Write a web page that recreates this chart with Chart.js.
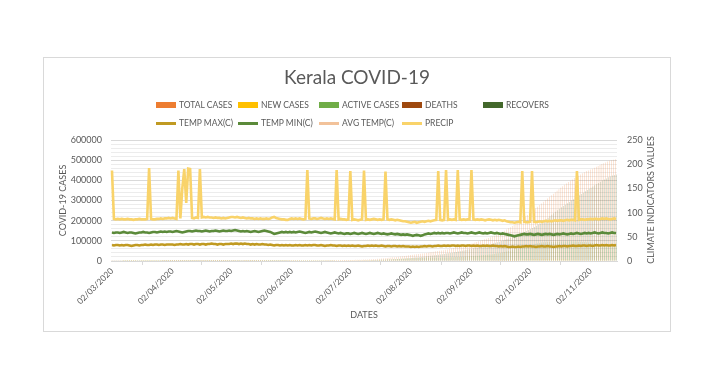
<!DOCTYPE html>
<html>
<head>
<meta charset="utf-8">
<script src="https://cdn.jsdelivr.net/npm/chart.js@4.4.0/dist/chart.umd.min.js"></script>
<style>
  html, body { margin: 0; padding: 0; background: #fff; }
  #wrap { position: relative; width: 714px; height: 383px; overflow: hidden; }
  #frame { position: absolute; left: 43px; top: 57px; width: 626px; height: 273px; border: 1px solid #d9d9d9; }
  #chart { position: absolute; left: 0; top: 0; }
  #title { position: absolute; left: 0; width: 714px; top: 65px; text-align: center;
           font: 19px Lato, sans-serif; color: #595959; }
  #rtitle { position: absolute; left: 651px; top: 200px; width: 160px; margin-left: -80px; margin-top: -6px;
            height: 12px; line-height: 12px; text-align: center; font: 9px Lato, sans-serif; color: #595959;
            transform: rotate(-90deg); white-space: nowrap; }
  .lg { position: absolute; font: 8.5px Lato, sans-serif; color: #595959; white-space: nowrap; height: 10px; line-height: 10px; }
  .lg i { position: absolute; left: 0; width: 20px; }
  .lg span { position: absolute; left: 23px; top: 0; }
</style>
</head>
<body>
<div id="wrap">
  <div id="frame"></div>
  <canvas id="chart" width="714" height="383"></canvas>
  <div id="title">Kerala COVID-19</div>
  <div id="rtitle">CLIMATE INDICATORS VALUES</div>
  <div id="legend"></div>
</div>
<script>
// daily dates 02/03/2020 .. 15/11/2020
var firstDay = Date.UTC(2020, 2, 2);
var dayCount = 259;
var dates = [];
for (var i = 0; i < dayCount; i++) {
    var d = new Date(firstDay + i * 86400000);
    dates.push(String(d.getUTCDate()).padStart(2, "0") + "/" +
               String(d.getUTCMonth() + 1).padStart(2, "0") + "/" + d.getUTCFullYear());
}

var casesTicks = [0, 100000, 200000, 300000, 400000, 500000, 600000];
var climateTicks = [0, 50, 100, 150, 200, 250];

// one row per month: Mar, Apr, May, Jun, Jul, Aug, Sep, Oct, Nov
var totalCases = [
    3,3,3,3,3,3,6,9,14,17,19,22,24,24,24,26,27,28,40,52,67,95,105,118,137,165,182,202,215,241,
    265,286,295,306,314,327,336,345,357,364,373,375,378,379,386,387,395,396,399,402,407,426,437,447,457,458,469,485,495,497,
    499,499,500,502,502,503,503,503,505,512,519,524,534,560,576,587,601,630,642,666,690,732,794,847,896,963,1003,1088,1150,1208,1269,
    1326,1412,1495,1588,1699,1807,1914,2006,2096,2161,2244,2322,2407,2493,2622,2697,2794,2912,3039,3172,3310,3451,3603,3726,3876,4071,4189,4311,4442,4593,
    4753,4964,5204,5429,5622,5894,6195,6534,6950,7439,7873,8322,8930,9553,10275,11066,11659,12480,13274,14104,15032,16110,16995,18098,19025,19728,20895,22304,23613,25116,26611,
    27956,29151,30449,31697,33115,34331,35515,36931,38144,39475,41277,42885,44415,46140,47898,49115,50231,52132,53865,55749,57579,59348,61879,64355,66760,69306,71700,74891,76525,78800,81000,
    83000,85500,88500,91500,94400,97800,100900,104200,107500,110800,114300,117900,121600,125700,130000,134500,139500,144800,150300,156000,162000,167900,174000,179900,186100,192300,199000,206000,213200,220600,
    228200,236000,244000,252200,260500,268800,277100,285400,293600,301800,309900,318000,325900,333600,341200,348800,356200,363600,370800,377900,384800,391600,398200,404700,411000,417100,423200,429100,434800,440300,445800,
    449000,453500,458000,462500,467000,471500,476000,480500,485000,489000,493000,496500,499500,502500,505000
];
var newCases = [
    0,0,0,0,0,0,3,3,5,3,2,3,2,0,0,2,1,1,12,12,15,28,10,13,19,28,17,20,13,26,
    24,21,9,11,8,13,9,9,12,7,9,2,3,1,7,1,8,1,3,3,5,19,11,10,10,1,11,16,10,2,
    2,0,1,2,0,1,0,0,2,7,7,5,10,26,16,11,14,29,12,24,24,42,62,53,49,67,40,85,62,58,61,
    57,86,83,93,111,108,107,92,90,65,83,78,85,86,129,75,97,118,127,133,138,141,152,123,150,195,118,122,131,151,
    160,211,240,225,193,272,301,339,416,489,434,449,608,623,722,791,593,821,794,830,928,1078,885,1103,927,703,1167,1409,1309,1503,1495,
    1345,1195,1298,1248,1418,1216,1184,1416,1213,1331,1802,1608,1530,1725,1758,1217,1116,1901,1733,1884,1830,1769,2531,2476,2405,2546,2394,3191,1634,2275,2200,
    2000,2500,3000,3000,2900,3400,3100,3300,3300,3300,3500,3600,3700,4100,4300,4500,5000,5300,5500,5700,6000,5900,6100,5900,6200,6200,6700,7000,7200,7400,
    7600,7800,8000,8200,8300,8300,8300,8300,8200,8200,8100,8100,7900,7700,7600,7600,7400,7400,7200,7100,6900,6800,6600,6500,6300,6100,6100,5900,5700,5500,5500,
    5400,5400,5500,5400,5500,5500,5500,5400,5400,5000,3700,3600,3500,3100,2800
];
var activeCases = [
    0,0,0,0,0,0,3,6,11,14,16,19,21,21,21,23,24,25,37,49,64,91,101,114,133,153,168,186,196,221,
    245,260,269,270,264,269,266,261,260,240,244,196,180,168,168,142,139,138,129,111,100,113,121,128,122,116,118,130,126,105,
    98,37,30,28,17,17,16,14,16,22,29,34,43,69,85,95,104,133,140,156,179,217,274,320,364,421,451,522,565,612,661,
    699,760,813,891,964,992,1051,1100,1087,1114,1171,1220,1230,1254,1316,1342,1351,1368,1415,1484,1591,1674,1766,1785,1861,1973,1994,2009,2020,2051,
    2100,2180,2340,2470,2570,2700,2830,3020,3210,3500,3770,4090,4510,4860,5260,5750,6000,6580,7110,7660,8140,8740,9170,9770,10100,10170,10590,11270,11830,12450,13170,
    13650,14150,14490,14820,15200,15230,15120,15300,15460,15580,15700,15840,15970,16150,16330,16520,16730,16930,17100,17380,17680,18040,18420,18850,19300,19780,20250,20760,21250,21780,22300,
    23900,24300,25100,25900,26600,27600,28400,29300,30100,30900,31800,32800,33800,35100,36600,38200,40200,42300,44600,47000,49500,51900,54400,56600,58900,61200,63600,66200,68800,71200,
    74000,76800,79600,82400,85000,87600,89800,91400,92500,93200,93700,94100,94500,94800,95200,95600,96000,96400,96800,97200,97400,97500,97400,97200,96900,96500,96000,95300,94500,93600,92600,
    91500,90300,89000,87600,86200,84800,83400,82000,80700,79400,78200,77100,76000,75100,74300
];
var deaths = [
    0,0,0,0,0,0,0,0,0,0,0,0,0,0,0,0,0,0,0,0,0,0,0,0,0,0,1,1,2,2,
    2,2,2,2,2,2,2,2,2,2,2,2,2,3,3,3,3,3,3,3,3,3,3,3,3,3,4,4,4,4,
    4,4,4,4,4,4,4,4,4,4,4,4,4,4,4,4,4,4,4,4,4,4,4,5,5,5,7,8,9,10,10,
    10,11,12,13,15,15,15,16,16,16,17,17,18,18,19,19,20,20,21,21,22,22,23,23,24,24,24,24,25,25,
    25,26,27,28,29,30,31,32,33,34,35,37,39,41,43,45,47,49,51,54,57,59,61,63,66,69,71,74,76,79,82,
    86,90,94,98,102,106,110,114,119,124,129,134,139,146,153,160,167,174,182,190,198,206,214,222,231,240,249,258,268,280,294,
    298,304,312,320,330,340,350,362,374,386,398,410,422,436,450,466,482,498,514,530,546,562,578,598,618,640,660,684,710,742,
    761,781,801,822,843,862,882,902,922,942,962,985,1006,1029,1048,1067,1089,1111,1133,1154,1178,1203,1226,1250,1276,1300,1332,1354,1381,1403,1430,
    1455,1481,1507,1533,1559,1585,1611,1640,1668,1696,1725,1754,1785,1815,1845
];
var recovers = [
    3,3,3,3,3,3,3,3,3,3,3,3,3,3,3,3,3,3,3,3,3,4,4,4,4,12,14,16,19,20,
    20,26,26,36,50,58,70,84,97,124,129,179,198,211,218,245,256,258,270,291,307,313,316,319,335,342,351,355,369,392,
    401,462,469,474,485,486,487,489,489,490,490,490,491,491,491,492,497,497,502,510,511,515,520,527,532,542,552,566,585,596,608,
    627,651,681,696,734,814,862,905,1008,1045,1070,1099,1174,1236,1303,1351,1440,1540,1620,1684,1714,1771,1831,1934,2006,2089,2185,2292,2411,2530,
    2638,2762,2842,2936,3031,3168,3341,3484,3716,3913,4073,4203,4389,4658,4978,5280,5620,5856,6120,6393,6839,7312,7764,8263,8863,9491,10230,10959,11702,12588,13359,
    14204,14924,15871,16787,17815,18997,20294,21516,22600,23700,24800,26000,27200,28400,29700,31000,32300,33700,35100,36600,38100,39700,41300,43000,44800,46600,48500,50500,52500,54500,56600,
    58700,60800,63000,65200,67500,69800,72200,74600,77100,79600,82200,84800,87500,90300,93100,96000,99000,102100,105300,108600,112000,115500,119100,122800,126600,130600,134800,139200,143800,148600,
    153400,158400,163600,168900,174700,180400,186500,193200,200300,207400,214800,222300,229800,237200,244800,252000,259000,266000,272800,279400,286100,292700,299400,306100,312700,319200,325800,332400,338900,345300,351700,
    357900,363600,369400,375200,380900,386800,392600,398600,404300,409600,414800,419400,423400,426500,428800
];

var tempMax = [
    33,32,33,33,32,33,32,33,33,32,31,32,33,33,32,33,33,34,33,33,34,33,34,34,33,34,34,33,34,34,
    34,34,33,34,34,35,34,34,35,34,35,35,34,35,35,34,35,35,34,35,35,36,35,35,34,35,35,34,35,35,
    35,36,35,36,36,35,36,35,36,35,35,34,35,34,35,34,34,35,34,34,33,34,33,32,33,33,32,33,32,33,32,
    33,32,32,33,32,33,32,32,33,32,33,32,33,33,32,32,33,32,31,32,32,33,32,32,31,32,32,31,32,31,
    32,31,32,31,31,32,31,30,31,31,32,31,32,31,32,31,31,32,31,30,31,31,30,31,31,30,31,30,31,30,30,
    30,29,30,29,30,29,30,30,31,30,31,31,30,31,31,32,31,31,32,31,32,31,32,32,31,32,31,32,32,31,32,
    32,31,32,31,32,31,31,32,31,32,31,31,32,31,31,30,31,30,31,30,29,29,30,29,29,30,29,30,30,31,
    30,31,30,30,29,30,30,31,30,30,31,30,30,29,30,30,31,30,31,31,30,31,31,32,31,31,32,31,32,32,31,
    32,32,31,32,33,32,32,33,32,33,32,32,33,32,33
];
var tempMin = [
    59,58,59,59,58,59,60,59,58,59,59,58,57,58,59,59,60,59,59,58,59,60,60,59,60,61,60,61,60,61,
    61,60,61,62,61,60,59,60,61,62,62,61,62,63,62,62,61,62,63,62,61,62,62,63,62,61,62,63,62,62,
    63,62,63,64,63,62,61,62,61,62,61,60,61,62,61,60,61,62,63,62,61,60,58,56,57,58,59,60,59,60,59,
    60,59,60,59,60,61,60,59,58,59,60,59,60,61,60,59,58,59,60,59,58,57,58,59,58,57,58,57,56,57,
    57,56,57,58,57,56,57,58,57,56,57,58,57,56,57,58,57,56,57,56,55,56,57,56,55,56,55,54,55,54,55,
    54,53,52,53,54,53,52,53,55,56,57,56,57,58,57,58,57,58,57,58,58,57,58,59,58,57,58,59,58,58,57,
    58,59,58,57,58,59,58,57,58,57,58,59,58,57,58,57,56,57,56,55,54,53,52,51,52,53,54,55,56,55,
    55,56,55,54,55,56,55,54,55,56,55,56,55,54,55,56,55,56,57,56,55,56,57,56,57,58,57,56,57,58,57,
    58,57,58,59,58,57,58,59,58,58,57,58,59,58,58
];
var avgTemp = [];   // listed in the legend, no line shows on the chart
var precip = [
    187,87,86,87,86,87,86,86,87,86,86,85,86,86,87,86,86,86,87,192,87,86,86,87,87,88,87,88,88,89,
    88,89,88,87,187,88,150,190,120,191,190,89,88,90,89,190,90,91,90,91,90,90,89,90,89,89,88,89,88,89,
    90,91,91,90,91,90,89,90,89,88,89,88,88,87,88,87,88,87,87,88,87,88,90,91,89,88,87,86,86,85,85,
    87,88,87,88,87,88,87,86,87,188,88,87,88,88,87,88,89,88,87,88,87,88,87,86,188,86,87,86,86,85,
    86,186,85,86,85,84,85,86,187,85,86,85,86,87,86,85,86,85,86,185,86,85,86,85,84,85,84,83,82,82,81,
    80,79,80,81,79,80,81,82,81,82,83,82,83,84,85,186,85,84,85,188,85,86,85,86,85,188,86,85,86,85,86,
    86,188,86,85,86,85,86,85,84,85,86,85,84,85,84,85,84,83,84,82,81,80,80,79,80,81,80,186,81,80,
    80,81,186,81,80,81,82,81,82,83,82,83,82,83,84,83,84,84,83,84,85,84,85,85,84,186,85,86,86,85,86,
    86,87,86,87,87,86,87,88,87,88,87,86,87,88,87
];

Chart.defaults.font.family = "Lato, sans-serif";
Chart.defaults.color = "#595959";

function barSet(label, data, color) {
    return { type: "bar", label: label, data: data, backgroundColor: color, yAxisID: "y", order: 2 };
}
function lineSet(label, data, color) {
    return {
        type: "line", label: label, data: data, borderColor: color, backgroundColor: color,
        borderWidth: 2.6, pointRadius: 0, tension: 0, yAxisID: "y1", order: 1
    };
}

var ctx = document.getElementById("chart").getContext("2d");
var myChart = new Chart(ctx, {
    data: {
        labels: dates,
        datasets: [
            barSet("TOTAL CASES", totalCases, "#ED7D31"),
            barSet("NEW CASES", newCases, "#FFC000"),
            barSet("ACTIVE CASES", activeCases, "#70AD47"),
            barSet("DEATHS", deaths, "#9E480E"),
            barSet("RECOVERS", recovers, "#43682B"),
            lineSet("TEMP MAX(C)", tempMax, "#C09A22"),
            lineSet("TEMP MIN(C)", tempMin, "#5B8A3A"),
            lineSet("AVG TEMP(C)", avgTemp, "#F2C29A"),
            lineSet("PRECIP", precip, "#F9D36A")
        ]
    },
    options: {
        responsive: false,
        animation: false,
        events: [],
        categoryPercentage: 0.5,
        barPercentage: 1,
        layout: { padding: { left: 53.5, right: 53.5, top: 140, bottom: 58.5 } },
        plugins: {
            legend: { display: false },
            title: { display: false },
            tooltip: { enabled: false }
        },
        scales: {
            x: {
                afterFit: function (scale) { scale.height = 63.5; },
                border: { display: true, color: "#d9d9d9" },
                grid: { display: true, drawOnChartArea: false, tickLength: 4, color: "#d9d9d9" },
                ticks: {
                    autoSkip: false,
                    minRotation: 45,
                    maxRotation: 45,
                    padding: 1,
                    font: { size: 8.5 },
                    callback: function (value) {
                        var lbl = this.getLabelForValue(value);
                        return lbl.indexOf("02/") === 0 ? lbl : null;
                    }
                },
                title: { display: true, text: "DATES", font: { size: 9 }, padding: 4 }
            },
            y: {
                position: "left",
                min: casesTicks[0],
                max: casesTicks[casesTicks.length - 1],
                afterFit: function (scale) { scale.width = 57.5; },
                border: { display: false },
                grid: {
                    drawTicks: false,
                    color: function (c) { return c.tick.value % 100000 === 0 ? "#d9d9d9" : "#ececec"; }
                },
                ticks: {
                    stepSize: 20000,
                    autoSkip: false,
                    padding: 9,
                    font: { size: 9 },
                    callback: function (v) { return casesTicks.indexOf(v) >= 0 ? String(v) : ""; }
                },
                title: { display: true, text: "COVID-19 CASES", font: { size: 9 }, padding: 4 }
            },
            y1: {
                position: "right",
                min: climateTicks[0],
                max: climateTicks[climateTicks.length - 1],
                afterFit: function (scale) { scale.width = 43.5; },
                border: { display: false },
                grid: { drawOnChartArea: false, drawTicks: false },
                ticks: { stepSize: 50, padding: 10, font: { size: 9 } },
                title: { display: false }
            }
        }
    }
});

// legend laid out in columns like the original
var legendCols = [156, 238, 319, 402, 483];
var legendRows = [100, 118];
var box = document.getElementById("legend");
myChart.data.datasets.forEach(function (ds, i) {
    var row = i < 5 ? 0 : 1;
    var col = i < 5 ? i : i - 5;
    var item = document.createElement("div");
    item.className = "lg";
    item.style.left = legendCols[col] + "px";
    item.style.top = legendRows[row] + "px";
    var sw = document.createElement("i");
    if (ds.type === "bar") {
        sw.style.top = "2px"; sw.style.height = "6px"; sw.style.background = ds.backgroundColor;
    } else {
        sw.style.top = "4px"; sw.style.height = "3px"; sw.style.background = ds.borderColor;
    }
    var tx = document.createElement("span");
    tx.textContent = ds.label;
    item.appendChild(sw);
    item.appendChild(tx);
    box.appendChild(item);
});
</script>
</body>
</html>
